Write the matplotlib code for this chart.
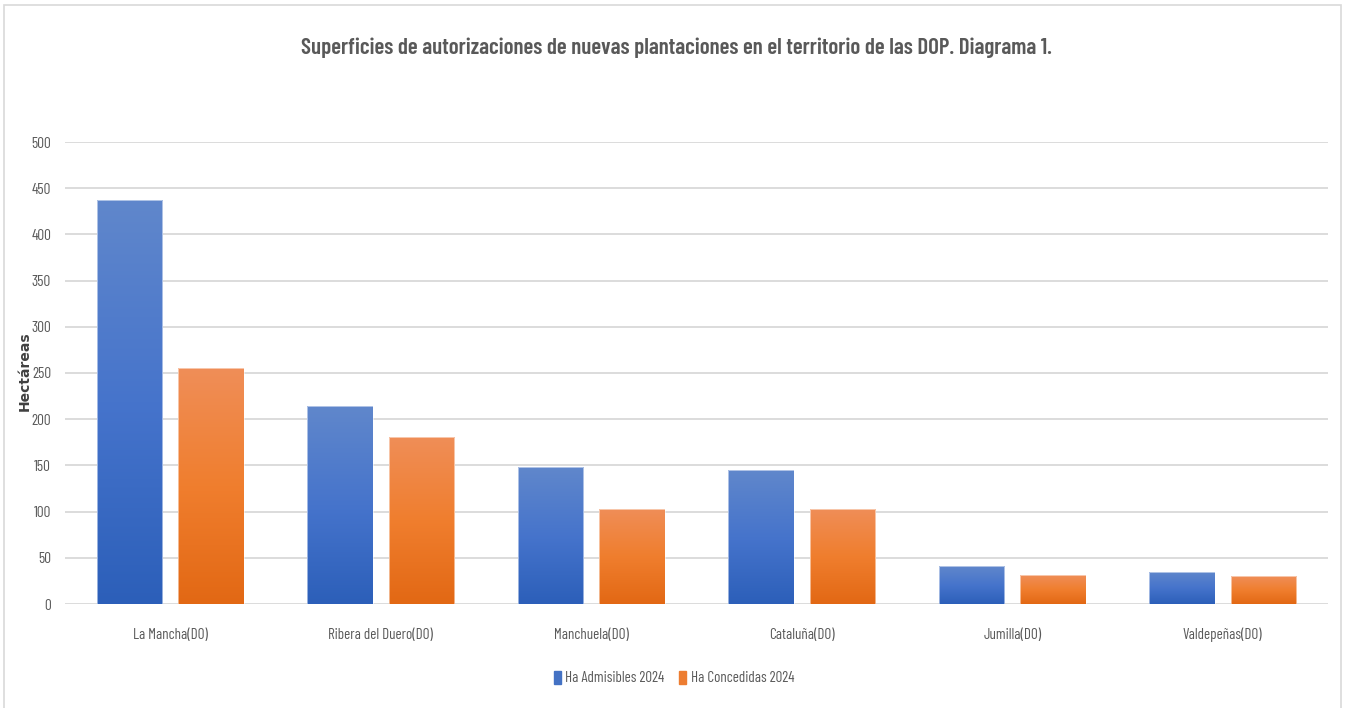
import numpy as np
import matplotlib.pyplot as plt
from matplotlib import font_manager as fm
from matplotlib.colors import LinearSegmentedColormap
from matplotlib.patches import Rectangle

categories = ["La Mancha(DO)", "Ribera del Duero(DO)", "Manchuela(DO)",
              "Cataluña(DO)", "Jumilla(DO)", "Valdepeñas(DO)"]
admisibles = [437, 214, 148, 145, 41, 35]
concedidas = [255, 181, 103, 103, 31, 30]
series_names = ["Ha Admisibles 2024", "Ha Concedidas 2024"]
yticks = [0, 50, 100, 150, 200, 250, 300, 350, 400, 450, 500]

installed = {f.name for f in fm.fontManager.ttflist}


def pick(*names):
    for n in names:
        if n in installed:
            return [n, "DejaVu Sans"]
    return ["DejaVu Sans"]


title_font = pick("Barlow Condensed", "Roboto Condensed", "Open Sans Condensed",
                  "IBM Plex Sans Condensed")
label_font = pick("Barlow Condensed", "Roboto Condensed", "IBM Plex Sans Condensed",
                  "Open Sans Condensed")
txt_color = "#595959"

W, H = 1346, 708
fig = plt.figure(figsize=(W / 100, H / 100), dpi=100)
fig.patch.set_facecolor("white")

# outer chart frame
fig.patches.append(Rectangle((4 / W, -0.01), (1341 - 4) / W, 1 - 5 / H + 0.01,
                             transform=fig.transFigure, fill=False,
                             edgecolor="#d9d9d9", linewidth=1.2))

ax = fig.add_axes([65 / W, 1 - 604 / H, (1328 - 65) / W, (604 - 142) / H])

x = np.arange(len(categories))
bw = 0.31
off = 0.193

blue_cmap = LinearSegmentedColormap.from_list("b", ["#2c5fb9", "#4674cc", "#6087cb"])
orange_cmap = LinearSegmentedColormap.from_list("o", ["#e26814", "#f07e2e", "#ef8e58"])
grad = np.linspace(0, 1, 256).reshape(-1, 1)

for vals, dx, cmap, col in [(admisibles, -off, blue_cmap, "#4472c4"),
                            (concedidas, off, orange_cmap, "#ed7d31")]:
    bars = ax.bar(x + dx, vals, width=bw, color=col, zorder=2, linewidth=0)
    for b in bars:
        x0, y0 = b.get_x(), b.get_y()
        w, h = b.get_width(), b.get_height()
        im = ax.imshow(grad, extent=[x0, x0 + w, y0, y0 + h], origin="lower",
                       cmap=cmap, aspect="auto", zorder=3)
        im.set_clip_path(b)
        ax.add_patch(Rectangle((x0, y0), w, h, fill=False,
                               edgecolor="#ffffff", linewidth=0.6, alpha=0.6, zorder=4))

ax.set_xlim(-0.5, len(categories) - 0.5)
ax.set_ylim(0, 500)
ax.set_yticks(yticks)
ax.set_yticklabels([str(v) for v in yticks], family=label_font, fontsize=11,
                   color=txt_color)
ax.set_xticks(x)
ax.set_xticklabels(categories, family=label_font, fontsize=10.8, color=txt_color)
ax.tick_params(axis="both", length=0)
ax.tick_params(axis="x", pad=17)
ax.tick_params(axis="y", pad=10)
ax.grid(axis="y", color="#d9d9d9", linewidth=1.3, zorder=0)
ax.set_axisbelow(True)
for s in ax.spines.values():
    s.set_visible(False)

fig.text(25 / W, 1 - 371 / H, "Hectáreas", rotation=90, ha="center", va="center",
         fontsize=10, fontweight="bold", color="#404040", family="DejaVu Sans")

fig.text(676 / W, 1 - 48 / H,
         "Superficies de autorizaciones de nuevas plantaciones en el territorio de las DOP. Diagrama 1.",
         ha="center", va="center", fontsize=16.5, fontweight="semibold", color=txt_color,
         family=title_font)

handles = [Rectangle((0, 0), 1, 1, color="#4472c4"), Rectangle((0, 0), 1, 1, color="#ed7d31")]
fig.legend(handles, series_names, loc="center", bbox_to_anchor=(674 / W, 1 - 678 / H),
           ncol=2, frameon=False, prop={"family": label_font, "size": 10.8},
           handlelength=0.45, handleheight=1.0, handletextpad=0.3, columnspacing=1.0,
           labelcolor=txt_color)

fig.savefig("out.png", dpi=100, facecolor="white")
